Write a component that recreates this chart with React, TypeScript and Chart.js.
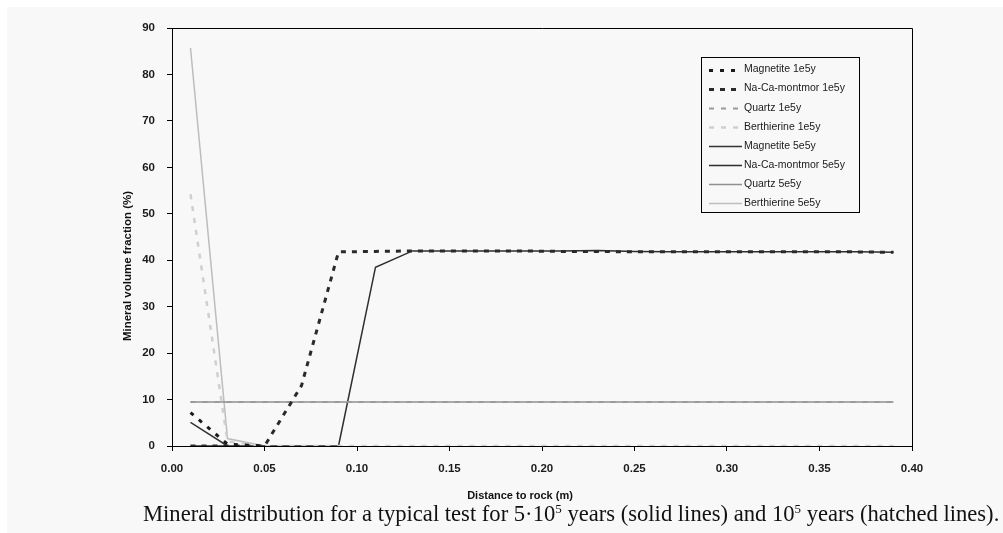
import React, { useEffect, useRef } from "react";
import { Chart, registerables } from "chart.js";

Chart.register(...registerables);

const distance = [0.01, 0.03, 0.05, 0.07, 0.09, 0.11, 0.13, 0.15, 0.17, 0.19, 0.21, 0.23, 0.25, 0.27, 0.29, 0.31, 0.33, 0.35, 0.37, 0.39];

const magnetite1e5 = [7.2, 0.4, 0, null, null, null, null, null, null, null, null, null, null, null, null, null, null, null, null, null];
const naCa1e5 = [0, 0, 0, 13, 41.8, 41.9, 42.0, 42.0, 42.0, 42.0, 41.9, 41.9, 41.8, 41.8, 41.8, 41.8, 41.8, 41.8, 41.8, 41.7];
const quartz1e5 = [9.5, 9.5, 9.5, 9.5, 9.5, 9.5, 9.5, 9.5, 9.5, 9.5, 9.5, 9.5, 9.5, 9.5, 9.5, 9.5, 9.5, 9.5, 9.5, 9.5];
const berthierine1e5 = [54.2, 1.0, 0, 0, 0, 0, 0, 0, 0, 0, 0, 0, 0, 0, 0, 0, 0, 0, 0, 0];
const magnetite5e5 = [5.1, 0, null, null, null, null, null, null, null, null, null, null, null, null, null, null, null, null, null, null];
const naCa5e5 = [0, 0, 0, 0, 0, 38.5, 42.0, 42.0, 42.0, 42.0, 42.0, 42.1, 41.9, 41.8, 41.8, 41.8, 41.8, 41.8, 41.8, 41.7];
const quartz5e5 = [9.5, 9.5, 9.5, 9.5, 9.5, 9.5, 9.5, 9.5, 9.5, 9.5, 9.5, 9.5, 9.5, 9.5, 9.5, 9.5, 9.5, 9.5, 9.5, 9.5];
const berthierine5e5 = [85.7, 1.6, 0, null, null, null, null, null, null, null, null, null, null, null, null, null, null, null, null, null];

const seriesLabels = [
  "Magnetite 1e5y",
  "Na-Ca-montmor 1e5y",
  "Quartz 1e5y",
  "Berthierine 1e5y",
  "Magnetite 5e5y",
  "Na-Ca-montmor 5e5y",
  "Quartz 5e5y",
  "Berthierine 5e5y",
];
const seriesValues = [magnetite1e5, naCa1e5, quartz1e5, berthierine1e5, magnetite5e5, naCa5e5, quartz5e5, berthierine5e5];
const seriesColors = ["#1a1a1a", "#2a2a2a", "#9a9a9a", "#cfcfcf", "#333333", "#2e2e2e", "#8f8f8f", "#bdbdbd"];
const seriesWidths = [3, 3, 2, 2.5, 1.5, 1.5, 1.5, 1.5];
const seriesDashes = [[4, 7], [5, 6], [5, 7], [5, 7], [], [], [], []];

const yTitle = "Mineral volume fraction (%)";
const xTitle = "Distance to rock (m)";
const SANS = 'Arial, "Liberation Sans", sans-serif';

const overlayPlugin = {
  id: "overlay",
  afterDraw(chart: any) {
    const ctx = chart.ctx;
    const a = chart.chartArea;
    ctx.save();
    ctx.strokeStyle = "#000";
    ctx.lineWidth = 1;
    ctx.beginPath();
    ctx.moveTo(a.left, Math.round(a.top) + 0.5);
    ctx.lineTo(Math.round(a.right) + 0.5, Math.round(a.top) + 0.5);
    ctx.lineTo(Math.round(a.right) + 0.5, a.bottom);
    ctx.stroke();

    ctx.fillStyle = "#111";
    ctx.textAlign = "center";
    ctx.textBaseline = "middle";
    ctx.font = "bold 11px " + SANS;
    ctx.fillText(xTitle, 520, 496);
    ctx.font = "bold 11.5px " + SANS;
    ctx.translate(128, 266);
    ctx.rotate(-Math.PI / 2);
    ctx.fillText(yTitle, 0, 0);
    ctx.restore();

    ctx.save();
    const bx = 701.5, by = 57.5, bw = 158, bh = 155;
    ctx.strokeStyle = "#000";
    ctx.lineWidth = 1;
    ctx.strokeRect(bx, by, bw, bh);
    ctx.font = "10.5px " + SANS;
    ctx.textAlign = "left";
    ctx.textBaseline = "middle";
    chart.data.datasets.forEach((ds: any, i: number) => {
      const y = 69.5 + i * 19.1;
      ctx.strokeStyle = ds.borderColor;
      ctx.lineWidth = ds.borderWidth;
      ctx.setLineDash(ds.borderDash || []);
      ctx.beginPath();
      ctx.moveTo(709, Math.round(y) + 0.5);
      ctx.lineTo(742, Math.round(y) + 0.5);
      ctx.stroke();
      ctx.setLineDash([]);
      ctx.fillStyle = "#1a1a1a";
      ctx.fillText(ds.label, 744, y);
    });
    ctx.restore();
  },
};

export default function App() {
  const ref = useRef<HTMLCanvasElement>(null);

  useEffect(() => {
    if (!ref.current) return;
    const datasets = seriesLabels.map((label, i) => ({
      label,
      data: distance.map((x, j) => ({ x, y: seriesValues[i][j] })),
      borderColor: seriesColors[i],
      backgroundColor: seriesColors[i],
      borderWidth: seriesWidths[i],
      borderDash: seriesDashes[i],
      pointRadius: 0,
      tension: 0,
      fill: false,
      spanGaps: false,
    }));
    const chart = new Chart(ref.current, {
      type: "line",
      data: { datasets },
      plugins: [overlayPlugin],
      options: {
        animation: false,
        responsive: false,
        devicePixelRatio: 1,
        layout: { padding: { top: 28, right: 91, bottom: 47, left: 0 } },
        plugins: { legend: { display: false }, tooltip: { enabled: false } },
        scales: {
          x: {
            type: "linear",
            min: 0,
            max: 0.4,
            grid: { display: true, drawOnChartArea: false, drawTicks: true, tickLength: 5, color: "#000" },
            border: { display: true, color: "#000", width: 1 },
            ticks: {
              stepSize: 0.05,
              padding: 11,
              color: "#1a1a1a",
              font: { family: SANS, size: 11.5, weight: "bold" },
              maxRotation: 0,
              callback: (v: any) => Number(v).toFixed(2),
            },
            afterFit: (s: any) => { s.height = 40; },
          },
          y: {
            type: "linear",
            min: 0,
            max: 90,
            grid: { display: true, drawOnChartArea: false, drawTicks: true, tickLength: 5, color: "#000" },
            border: { display: true, color: "#000", width: 1 },
            ticks: {
              stepSize: 10,
              padding: 12,
              color: "#1a1a1a",
              font: { family: SANS, size: 11.5, weight: "bold" },
            },
            afterFit: (s: any) => { s.width = 172; },
          },
        },
      },
    });
    return () => chart.destroy();
  }, []);

  return (
    <div style={{ position: "absolute", left: 0, top: 0, width: 1003, height: 533, background: "#ffffff", overflow: "hidden" }}>
      <div style={{ position: "absolute", left: 7, top: 7, right: 0, bottom: 0, background: "#f8f8f8" }} />
      <canvas ref={ref} width={1003} height={533} style={{ position: "absolute", left: 0, top: 0, width: 1003, height: 533 }} />
      <div
        style={{
          position: "absolute",
          left: 143,
          top: 502,
          fontFamily: '"Liberation Serif", "Times New Roman", serif',
          fontSize: 22.6,
          lineHeight: "24px",
          color: "#111",
          whiteSpace: "nowrap",
        }}
      >
        Mineral distribution for a typical test for 5·10
        <span style={{ fontSize: 13, position: "relative", top: -8 }}>5</span> years (solid lines) and 10
        <span style={{ fontSize: 13, position: "relative", top: -8 }}>5</span> years (hatched lines).
      </div>
    </div>
  );
}
